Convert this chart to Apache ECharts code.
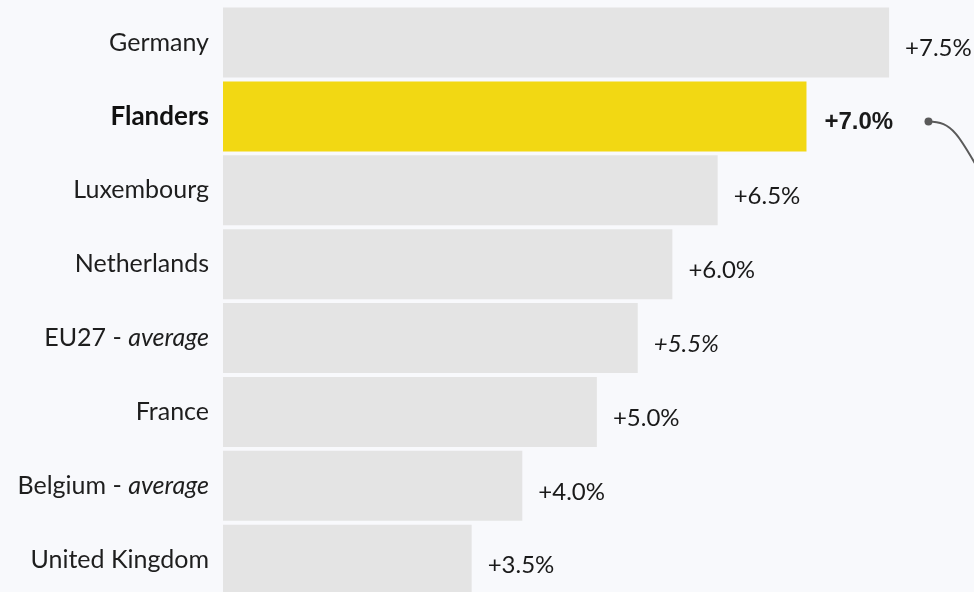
<!DOCTYPE html>
<html>
<head>
<meta charset="utf-8">
<script src="https://cdn.jsdelivr.net/npm/echarts@6/dist/echarts.min.js"></script>
<style>
  html, body { margin: 0; padding: 0; background: #f8f9fc; }
  #chart { width: 974px; height: 592px; }
</style>
</head>
<body>
<div id="chart"></div>
<script>
// categories (top to bottom)
const regions = ['Germany', 'Flanders', 'Luxembourg', 'Netherlands', 'EU27', 'France', 'Belgium', 'United Kingdom']
// bar lengths
const growth = [7.5, 6.57, 5.57, 5.06, 4.67, 4.21, 3.37, 2.80]
// value labels as printed
const growthLabels = ['+7.5%', '+7.0%', '+6.5%', '+6.0%', '+5.5%', '+5.0%', '+4.0%', '+3.5%']
const averageRows = ['EU27', 'Belgium']
const highlight = 'Flanders'

const FONT = 'Lato'
const chart = echarts.init(document.getElementById('chart'))

const barData = regions.map((name, i) => {
  const isHi = name === highlight
  return {
    value: growth[i],
    itemStyle: { color: isHi ? '#f2d813' : '#e4e4e4' },
    label: {
      formatter: growthLabels[i],
      fontWeight: isHi ? 'bold' : 'normal',
      fontStyle: name === 'EU27' ? 'italic' : 'normal',
      fontFamily: isHi ? 'Liberation Sans' : FONT,
      fontSize: isHi ? 24 : 24,
      distance: isHi ? 18 : 16
    }
  }
})

const option = {
  backgroundColor: '#f8f9fc',
  animation: false,
  grid: { left: 223, width: 746, top: 5.6, height: 591, outerBoundsMode: 'none', containLabel: false },
  xAxis: {
    type: 'value',
    min: 0,
    max: 8.4,
    show: false
  },
  yAxis: {
    type: 'category',
    inverse: true,
    data: regions,
    axisLine: { show: false },
    axisTick: { show: false },
    axisLabel: {
      margin: 14,
      fontFamily: FONT,
      fontSize: 25,
      color: '#1e1e1e',
      formatter: function (v) {
        if (v === highlight) return '{b|' + v + '}'
        if (averageRows.indexOf(v) >= 0) return v + ' - {i|average}'
        return v
      },
      rich: {
        b: { fontFamily: FONT, fontSize: 26, fontWeight: 'bold', color: '#111' },
        i: { fontFamily: FONT, fontSize: 25, fontStyle: 'italic', color: '#1e1e1e' }
      }
    }
  },
  series: [{
    type: 'bar',
    data: barData,
    barWidth: 70,
    label: {
      show: true,
      position: 'right',
      offset: [0, 6],
      color: '#1a1a1a'
    }
  }]
}

chart.setOption(option)

// connector from the highlighted label toward the right edge
const hiIdx = regions.indexOf(highlight)
const p = chart.convertToPixel({ seriesIndex: 0 }, [growth[hiIdx], hiIdx])
const sx = p[0] + 122, sy = p[1] + 5
chart.setOption({
  graphic: [
    {
      type: 'bezierCurve',
      shape: { x1: sx, y1: sy, x2: 990, y2: 190, cpx1: sx + 25, cpy1: sy, cpx2: 960, cpy2: sy + 15 },
      style: { stroke: '#5a5a5a', lineWidth: 2, fill: null }
    },
    {
      type: 'circle',
      shape: { cx: sx, cy: sy, r: 4 },
      style: { fill: '#5a5a5a' }
    }
  ]
})
</script>
</body>
</html>
